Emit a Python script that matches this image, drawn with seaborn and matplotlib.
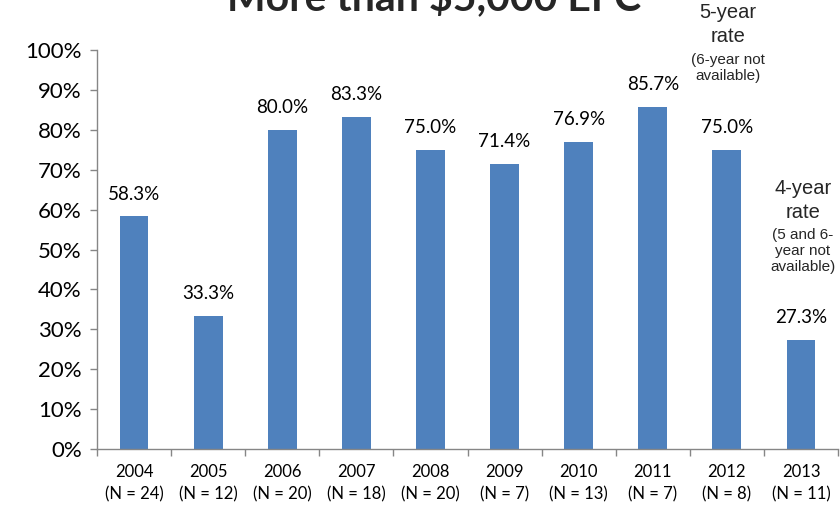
import matplotlib
matplotlib.use("Agg")
import matplotlib.pyplot as plt
from matplotlib.ticker import FixedLocator, PercentFormatter
import numpy as np
import pandas as pd
import seaborn as sns

# Graduation rates by entering cohort
years = ["2004", "2005", "2006", "2007", "2008", "2009", "2010", "2011", "2012", "2013"]
counts = [24, 12, 20, 18, 20, 7, 13, 7, 8, 11]
rates = [58.3, 33.3, 80.0, 83.3, 75.0, 71.4, 76.9, 85.7, 75.0, 27.3]
y_ticks = [0, 10, 20, 30, 40, 50, 60, 70, 80, 90, 100]

labels = [f"{y}\n(N = {n})" for y, n in zip(years, counts)]
df = pd.DataFrame({"cohort": labels, "rate": rates})

sns.set_style("white")
plt.rcParams["font.family"] = ["Lato", "DejaVu Sans"]

fig = plt.figure(figsize=(8.4, 5.07), dpi=100)
ax = fig.add_axes([97 / 840, 1 - 449 / 507, 741 / 840, 399 / 507])

sns.barplot(data=df, x="cohort", y="rate", color="#4F81BD", width=0.39,
            saturation=1, ax=ax, edgecolor="none")

ax.set_ylim(0, 100)
ax.set_xlim(-0.5, len(labels) - 0.5)
ax.yaxis.set_major_locator(FixedLocator(y_ticks))
ax.yaxis.set_major_formatter(PercentFormatter(decimals=0))
ax.set_xlabel("")
ax.set_ylabel("")

grey = "#868686"
for side in ("top", "right"):
    ax.spines[side].set_visible(False)
for side in ("left", "bottom"):
    ax.spines[side].set_color(grey)
    ax.spines[side].set_linewidth(1.0)

ax.tick_params(axis="y", which="major", length=5, width=1, color=grey,
               direction="out", labelsize=16, labelcolor="black", pad=6, left=True)
ax.tick_params(axis="x", which="major", length=0, labelsize=12,
               labelcolor="black", pad=11)
for t in ax.get_xticklabels():
    t.set_linespacing(1.45)
ax.xaxis.set_minor_locator(FixedLocator(np.arange(-0.5, len(labels), 1.0)))
ax.tick_params(axis="x", which="minor", length=5, width=1, color=grey,
               direction="out", bottom=True)

# value labels above each bar
for i, r in enumerate(rates):
    ax.annotate(f"{r:.1f}%", (i, r), xytext=(0, 16), textcoords="offset points",
                ha="center", va="center", fontsize=13.5, color="black")

# notes about the shorter measurement windows for recent cohorts
note_font = ["Liberation Sans", "DejaVu Sans"]
notes = [
    (728, 12, "5-year", 14.5), (728, 37, "rate", 14.5),
    (728, 60, "(6-year not", 11), (728, 76, "available)", 11),
    (803, 189, "4-year", 14.5), (803, 212, "rate", 14.5),
    (803, 235, "(5 and 6-", 11), (803, 251, "year not", 11),
    (803, 267, "available)", 11),
]
for x, y, s, fs in notes:
    fig.text(x / 840, 1 - y / 507, s, ha="center", va="center",
             fontsize=fs, family=note_font)

# chart title sits at the very top edge
fig.text(434 / 840, 1 - 10 / 507, "More than $5,000 EFC", ha="center",
         va="baseline", fontsize=29.5, fontweight="bold")

fig.savefig("out.png", dpi=100)
